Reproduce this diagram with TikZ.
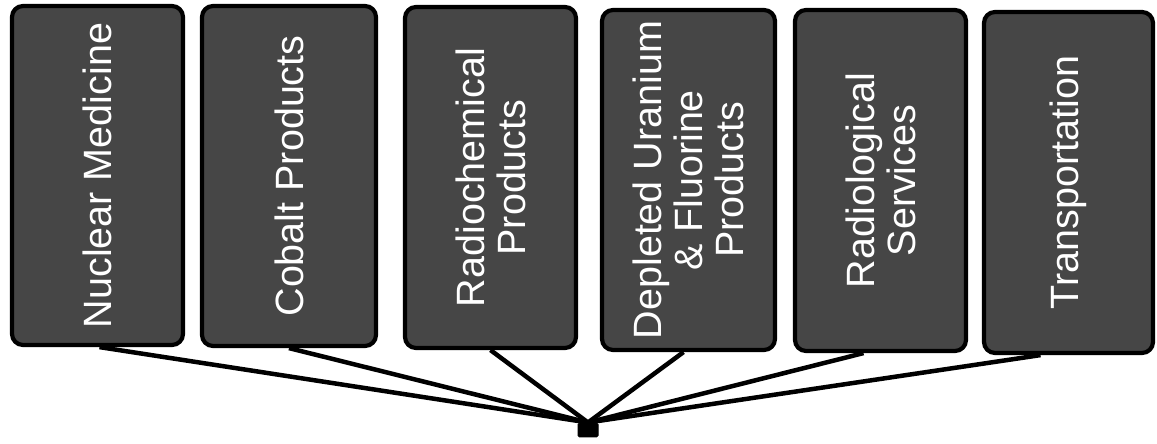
\documentclass[tikz,border=0pt]{standalone}
\usepackage{fontspec}
\setmainfont{Liberation Sans}
\definecolor{boxfill}{RGB}{70,70,70}
\begin{document}
\begin{tikzpicture}[x=1pt,y=1pt,
  cat/.style={draw=black, line width=4.2pt, fill=boxfill, rounded corners=11pt,
    text=white, font=\fontsize{39.5}{41}\selectfont, align=center,
    inner sep=0pt, rotate=90},
  link/.style={line width=4.5pt, draw=black},
  hubbox/.style={fill=black, draw=black, line width=1pt, minimum width=20pt,
    minimum height=14pt, inner sep=0pt, rounded corners=1.5pt}]
\useasboundingbox (0,0) rectangle (1157,444);
% image y -> 444 - y
\node[cat, minimum width=339pt, minimum height=171pt] (b1) at (97.5,268.5) {Nuclear Medicine};
\node[cat, minimum width=340pt, minimum height=174pt] (b2) at (289,268) {Cobalt Products};
\node[cat, minimum width=341pt, minimum height=171pt] (b3) at (490.5,266.5) {Radiochemical\\Products};
\node[cat, minimum width=340pt, minimum height=173pt] (b4) at (688.5,264) {Depleted Uranium\\\& Fluorine\\Products};
\node[cat, minimum width=341pt, minimum height=171pt] (b5) at (880.5,263.5) {Radiological\\Services};
\node[cat, minimum width=341pt, minimum height=169pt] (b6) at (1068.5,261.5) {Transportation};
\node[hubbox] (hub) at (588,14) {};
\draw[link] ([xshift=2pt]b1.west) -- (hub.north);
\draw[link] (b2.west) -- (hub.north);
\draw[link] (b3.west) -- (hub.north);
\draw[link] ([xshift=-5pt]b4.west) -- (hub.north);
\draw[link] ([xshift=-17pt]b5.west) -- (hub.north);
\draw[link] ([xshift=-28pt]b6.west) -- (hub.north);
\end{tikzpicture}
\end{document}
